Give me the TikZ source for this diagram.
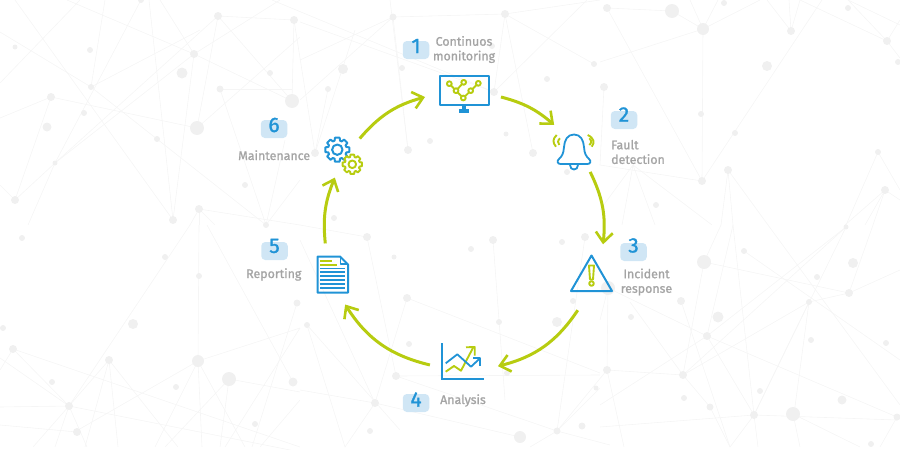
\documentclass[tikz,border=0pt]{standalone}
\usepackage{fontspec}
\setmainfont{Fira Sans}
\newfontfamily\labelFont[FakeBold=1.2]{Fira Sans}
\usetikzlibrary{arrows.meta}

\definecolor{iconBlue}{HTML}{2093D6}
\definecolor{iconGreen}{HTML}{B7CC10}
\definecolor{badgeBlue}{HTML}{D0E6F5}
\definecolor{labelGray}{HTML}{A4A4A4}
\definecolor{netLine}{HTML}{F5F5F5}
\definecolor{netDot}{HTML}{F0F0F0}

\tikzset{
  flow/.style={iconGreen,line width=3pt,-{Straight Barb[length=10pt,width=17pt,line width=2.6pt]}},
  iconSpot/.style={circle,inner sep=0pt,outer sep=0pt},
  blueLine/.style={iconBlue,line width=2pt,line join=round},
  greenLine/.style={iconGreen,line width=1.9pt,line join=round},
  badge/.style={fill=badgeBlue,rounded corners=4pt,minimum width=26.5pt,minimum height=18pt,inner sep=0pt},
  digit/.style={iconBlue,font=\labelFont\fontsize{21}{21}\selectfont,inner sep=0pt},
  caption/.style={labelGray,font=\labelFont\fontsize{12.4}{14.6}\selectfont,inner sep=0pt}
}

\newcommand{\gearIcon}[6]{%
  \begin{scope}[shift={(#1,#2)}]
    \draw[#6,fill=white] (-11:#3)
      \foreach \a in {0,45,...,315} {
        -- (\a-11:#3) -- (\a+11:#3) -- (\a+17:#4) -- (\a+28:#4)
      } -- cycle;
    \draw[#6] (0,0) circle (#5);
  \end{scope}
}

\begin{document}
\begin{tikzpicture}[x=1pt,y=-1pt]

  \useasboundingbox (0,0) rectangle (900,450);

  % network behind the cycle
  \foreach \xa/\ya/\xb/\yb in {
    15/0/173/220, 141/0/55/163, 67/0/194/54, 160/0/194/54, 149/0/173/220,
    194/54/173/220, 280/0/194/54, 194/54/292/101, 194/54/55/163, 218/16/55/163,
    218/16/197/128, 218/16/294/20, 294/20/292/101, 300/37/197/128, 218/16/292/101,
    51/97/197/128, 51/97/0/118, 51/97/15/200, 55/163/15/200, 55/163/28/225,
    15/200/0/185, 0/32/91/87, 91/87/200/30, 91/87/105/0, 91/87/266/225,
    0/83/80/0, 220/89/266/225, 220/89/292/89, 199/209/300/225, 199/209/190/225,
    199/209/199/225, 199/209/215/225, 266/225/285/140, 266/225/300/180,
    199/225/198/361, 190/225/69/406, 207/225/293/382, 69/406/0/407, 69/406/13/349,
    69/406/0/358, 13/349/0/370, 69/406/33/447, 69/406/55/447, 69/406/87/447,
    69/406/300/452, 109/360/69/406, 109/360/85/447, 109/360/118/447, 109/360/178/447,
    198/361/155/447, 198/361/202/447, 198/361/245/447, 198/361/78/430,
    229/379/165/447, 229/379/220/447, 229/379/300/392, 198/361/300/328,
    297/303/252/447, 300/328/225/447, 13/349/300/447, 0/425/77/432, 300/400/260/447,
    300/22/494/92, 505/14/494/92, 505/14/600/0, 393/17/505/14, 393/17/300/60,
    494/92/587/0, 505/14/594/64, 393/17/408/150, 300/100/393/17, 315/153/328/89,
    315/153/355/30, 408/150/390/0, 272/0/494/92, 533/153/505/14, 294/20/315/153,
    407/298/375/403, 407/298/600/373, 367/237/300/225, 307/325/400/430, 307/325/345/447,
    396/376/600/375, 375/403/300/390, 375/403/345/447, 375/403/520/437, 396/376/557/431,
    557/431/600/388, 557/431/607/370, 557/431/530/447, 557/431/610/445, 585/237/557/431,
    493/240/505/400, 367/237/396/376, 300/240/375/403,
    607/8/672/11, 672/11/703/29, 703/29/600/62, 703/29/702/181, 703/29/718/0,
    703/29/690/0, 703/29/760/0, 791/31/767/0, 791/31/789/0, 791/31/800/0,
    702/181/822/0, 607/8/702/181, 702/181/600/165, 633/165/600/210, 633/165/622/225,
    633/165/655/225, 633/165/712/225, 728/170/721/225, 728/170/733/225, 728/170/768/225,
    885/190/845/225, 885/190/873/225, 885/190/900/200, 885/190/865/225, 878/152/846/225,
    878/152/900/190, 887/41/848/0, 887/41/900/20, 887/41/900/58, 800/0/887/41,
    848/0/900/25, 604/87/600/165,
    846/227/707/336, 846/227/754/415, 608/288/707/336, 707/336/754/415, 707/336/897/417,
    733/225/707/336, 721/225/704/262, 704/262/683/375, 733/225/754/415, 768/225/900/405,
    704/262/849/293, 849/293/900/270, 849/293/873/225, 809/302/849/293, 809/302/754/415,
    809/302/794/414, 809/302/683/375, 744/251/900/360, 707/336/600/405, 683/375/607/370,
    683/375/710/407, 683/375/846/227, 608/288/607/370, 607/370/624/447, 608/288/600/320,
    630/302/683/375, 754/415/600/427, 754/415/897/420, 754/415/730/447, 754/415/758/447,
    793/414/800/447, 793/414/860/447, 710/407/730/447, 681/301/730/447, 897/417/880/447
  } {
    \draw[netLine,line width=0.6pt] (\xa,\ya) -- (\xb,\yb);
  }

  \foreach \x/\y/\r in {
    15/47/2.5, 90/50/3, 51/97/4, 47/127/4.5, 84/113/3, 91/87/3, 55/163/2.5, 15/200/4,
    141/0/3, 194/54/4, 182/73/5.5, 218/16/4, 294/20/4, 270/73/3, 220/89/3.5, 292/101/7,
    197/128/7, 157/139/3, 245/185/3, 199/209/4, 173/220/4, 266/225/3,
    22/238/3, 165/257/3, 199/276/3, 297/303/3.5, 3/328/3, 133/324/5, 13/349/4, 109/360/4,
    198/361/6, 229/379/7, 293/382/4.5, 52/382/3, 176/387/3, 69/406/4, 255/424/3, 77/432/4,
    607/8/4, 672/11/7, 703/29/6, 724/3/3, 791/31/4, 848/8/3, 887/41/4, 898/62/3, 767/66/5,
    604/87/4, 701/114/3, 735/133/3, 728/170/4, 702/181/4, 878/152/3, 885/190/4, 656/205/3,
    846/227/2.5, 744/251/3, 704/262/7, 853/263/5, 817/277/3, 849/293/4, 681/301/4, 809/302/3,
    608/288/7, 631/317/3, 718/317/5.5, 707/336/4, 811/340/3, 886/343/3, 607/370/4, 683/375/4,
    760/391/3, 684/398/3, 842/400/4.5, 710/407/3.5, 754/415/4, 793/414/7, 897/417/3.5, 871/444/3,
    393/17/3.5, 505/14/4, 343/69/5, 402/68/3, 328/89/3, 492/46/3, 547/79/3, 494/92/4, 594/64/3,
    430/141/3, 506/134/2.5, 408/150/4, 533/153/4, 315/153/4, 567/172/3, 334/218/3,
    367/237/4, 394/257/2.5, 471/249/3, 493/240/4, 562/242/3, 585/237/4, 573/301/3, 557/322/5,
    407/298/4, 499/322/3, 409/344/3, 307/325/3, 396/376/4, 375/403/4, 507/373/3, 596/388/2.5,
    370/431/3, 520/437/6, 557/431/3.5, 582/426/3.5
  } {
    \fill[netDot] (\x,\y) circle (\r);
  }

  % spots the arrows run between
  \node[iconSpot,minimum size=76.4pt] (monitorIcon) at (463,93) {};
  \node[iconSpot,minimum size=59.4pt] (bellIcon) at (574,147) {};
  \node[iconSpot,minimum size=70.6pt] (warnIcon) at (591,277.5) {};
  \node[iconSpot,minimum size=68.4pt] (chartIcon) at (464,362) {};
  \node[iconSpot,minimum size=64.6pt] (docIcon) at (332,275) {};
  \node[iconSpot,minimum size=47pt] (gearsIcon) at (344,156) {};

  \draw[flow] (monitorIcon.-6) to[bend left=13] (bellIcon.132);
  \draw[flow] (bellIcon.-57) to[bend left=16] (warnIcon.70);
  \draw[flow] (warnIcon.248) to[bend left=21] (chartIcon.-7);
  \draw[flow] (chartIcon.185) to[bend left=22] (docIcon.-66);
  \draw[flow] (docIcon.102) to[bend left=14] (gearsIcon.247);
  \draw[flow] (gearsIcon.48) to[bend left=17] (monitorIcon.186);

  % monitor
  \draw[blueLine] (439.5,76) rectangle (489,105);
  \fill[iconBlue] (461.5,105) rectangle (465.5,110);
  \fill[iconBlue] (458.5,109) rectangle (468.5,112.5);
  \draw[greenLine] (449.3,83.7) -- (456,90.7) -- (463.7,82.3);
  \draw[greenLine] (456,90.7) -- (463.3,98) -- (470.7,90.7) -- (478.3,83.3);
  \foreach \x/\y in {449.3/83.7, 463.7/82.3, 478.3/83.3, 456/90.7, 470.7/90.7, 463.3/98} {
    \draw[greenLine,fill=white] (\x,\y) circle (2.4);
  }

  % bell
  \draw[blueLine,line width=1.8pt] (574,134.5) .. controls (567.5,134.5) and (564.5,140) .. (564,147)
    .. controls (563.5,154) and (562,156) .. (559,159)
    .. controls (556.5,161) and (557.5,164) .. (560.5,164) -- (587.5,164)
    .. controls (590.5,164) and (591.5,161) .. (589,159)
    .. controls (586,156) and (584.5,154) .. (584,147)
    .. controls (583.5,140) and (580.5,134.5) .. (574,134.5) -- cycle;
  \draw[blueLine,line width=1.8pt] (570,165) .. controls (570,171) and (578,171) .. (578,165);
  \draw[greenLine] (556.7,135) .. controls (552.5,139) and (552.5,142.5) .. (556,146.7);
  \draw[greenLine] (560,138.3) .. controls (557.5,140.5) and (557.5,143) .. (559.3,145);
  \draw[greenLine] (587.7,135) .. controls (594,138) and (595,142.5) .. (591.7,146.7);
  \draw[greenLine] (589.3,138.3) .. controls (591.8,140.5) and (591.8,143) .. (589.3,145);

  % warning triangle
  \draw[blueLine] (591.5,255.5) -- (612,291) -- (571,291) -- cycle;
  \draw[greenLine] (589,265.5) -- (594,265.5) -- (593,279.5) -- (590,279.5) -- cycle;
  \draw[greenLine] (591.5,283.5) circle (2.3);

  % chart
  \draw[blueLine,line join=miter] (441.7,343.3) -- (441.7,379.3) -- (484.3,379.3);
  \draw[greenLine] (445.7,371.7) -- (454,366) -- (461,370.7) -- (473.3,347.3);
  \draw[greenLine] (466,347.3) -- (474.7,347) -- (474.7,355.7);
  \draw[blueLine,line width=1.8pt] (445.7,363.3) -- (457.3,354.3) -- (471,366.7) -- (480,358.3);
  \draw[blueLine,line width=1.8pt] (473.3,358.3) -- (480.3,358.3) -- (480.3,366);

  % report sheet
  \draw[blueLine] (317.5,256.5) -- (340,256.5) -- (348,264.5) -- (348,292.5) -- (317.5,292.5) -- cycle;
  \draw[blueLine,line width=1.4pt] (340.5,257) -- (340.5,264) -- (347.5,264);
  \draw[greenLine] (320,260.7) -- (332.3,260.7);
  \draw[greenLine] (320,264.7) -- (336.7,264.7);
  \foreach \y in {268.3,272,275.7,280,284,287.7} {
    \draw[blueLine,line width=1.6pt] (320,\y) -- (344.5,\y);
  }

  % gears
  \gearIcon{337.3}{149.7}{12.2}{9.4}{5.2}{blueLine}
  \gearIcon{352.3}{164.3}{9.8}{7.6}{3.8}{greenLine}

  % numbers
  \foreach \n/\x/\y/\ny in {1/416/50/46, 2/624/120/114.5, 3/633.5/252/245.5,
                            4/416/403/399.5, 5/274.5/251/246, 6/274/129/125} {
    \node[badge] (badge\n) at (\x,\y) {};
    \node[digit] (digit\n) at (\x,\ny) {\n};
  }

  \node[caption,align=center] (monitoring) at (464,49.5) {Continuos\\monitoring};
  \node[caption,align=left,anchor=west] (fault) at (611,152) {Fault\\detection};
  \node[caption,align=center] (incident) at (646.5,282) {Incident\\response};
  \node[caption,anchor=base west] (analysis) at (440,404) {Analysis};
  \node[caption,anchor=base west] (reporting) at (246,278) {Reporting};
  \node[caption,anchor=base west] (maintenance) at (238,160) {Maintenance};

\end{tikzpicture}
\end{document}
